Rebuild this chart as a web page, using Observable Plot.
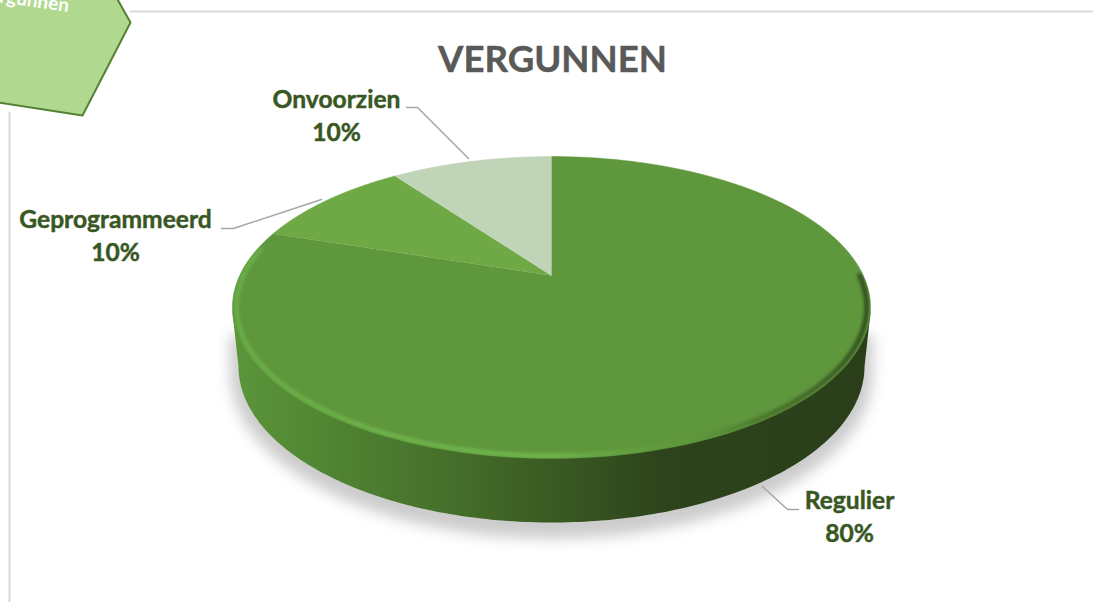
<!DOCTYPE html>
<html><head><meta charset="utf-8">
<style>html,body{margin:0;padding:0;background:#fff;overflow:hidden}</style>
<script src="https://cdn.jsdelivr.net/npm/d3@7"></script>
<script src="https://cdn.jsdelivr.net/npm/@observablehq/plot@0.6"></script>
</head><body>
<script>
const categories = ["Regulier", "Geprogrammeerd", "Onvoorzien"];
const shares = [80, 10, 10];
const sliceColors = ["#5f973c", "#6ea945", "#c0d4b8"];
const titleText = "VERGUNNEN";
const badgeText = "Vergunnen";
const labelX = [849, 115, 336];
const labelY = [501, 220, 100];
const leaders = [
  [[762, 486], [787, 509], [798, 509]],
  [[221, 228], [233, 228], [321, 199]],
  [[406, 107], [417, 107], [468, 158]]
];
const badgeShape = [[-40, -40], [112, -10], [130, 22], [82, 115], [-40, 96]];
const frameTop = [[130, 11], [1093, 11]];
const frameLeft = [[9, 112], [9, 602]];

// perspective disc: top face
const cx = 551, tipY = 275, a = 311.8, b = 144.2, k = 0.212;
const project = (t, r = 1) => {
  const u = r * Math.sin(t), v = -r * Math.cos(t), w = 1 - k * v;
  return [cx + a * u / w, tipY + b * v / w];
};
const TAU = Math.PI * 2;
const arcPts = (t0, t1, r = 1, n = 160) => d3.range(n + 1).map(i => project(t0 + (t1 - t0) * i / n, r));

const pie = d3.pie().sort(null)(shares);
const sliceRows = pie.flatMap((s, i) =>
  [[cx, tipY], ...arcPts(s.startAngle, s.endAngle)].map(([x, y]) => ({name: categories[i], x, y})));

// side wall: lower rim
const lowCy = 366, lowRx = 313, lowRy = 156;
const lowPts = d3.range(0, 181).map(i => {
  const t = Math.PI * i / 180;
  return [cx + lowRx * Math.cos(t), lowCy + lowRy * Math.sin(t)];
});
const wall = [[870, 312], ...lowPts, [232, 312]];
const shadowPts = d3.range(0, 181).map(i => {
  const t = Math.PI * i / 180;
  return [cx + (lowRx + 8) * Math.cos(t), lowCy + 8 + (lowRy + 8) * Math.sin(t)];
});
const shadow = [[cx + 322, 335], ...shadowPts, [cx - 322, 335]];
const rimNear = arcPts(Math.PI * 0.5, Math.PI * 1.56, 0.988, 240);
const facePath = "M" + arcPts(0, TAU, 1, 240).map(p => p.join(",")).join("L") + "Z";

const defs = () => {
  const d = d3.create("svg:defs");
  const grad = (id, x1, x2, stops) => {
    const g = d.append("linearGradient").attr("id", id).attr("gradientUnits", "userSpaceOnUse")
      .attr("x1", x1).attr("x2", x2).attr("y1", 0).attr("y2", 0);
    stops.forEach(([o, c, op]) => g.append("stop").attr("offset", o).attr("stop-color", c).attr("stop-opacity", op ?? 1));
  };
  grad("wallGrad", 232, 870, [[0, "#5b953a"], [0.15, "#508532"], [0.33, "#46702b"], [0.5, "#3a5a22"], [0.68, "#2c431b"], [1, "#2a3f19"]]);
  grad("rimGrad", 232, 870, [[0, "#69ad47"], [0.5, "#70b44d"], [0.62, "#66a543", 0.7], [0.72, "#5f973c", 0.3], [0.82, "#3a5a22", 0.5], [1, "#2a3f19", 0.8]]);
  d.append("clipPath").attr("id", "faceClip").append("path").attr("d", facePath);
  return d.node();
};

const xy = {x: d => d[0], y: d => d[1]};
const bold = {fontFamily: "Lato, Carlito, sans-serif", fontWeight: 700};
const heavy = c => ({fill: c, stroke: c, strokeWidth: 0.45, ...bold});

const plot = Plot.plot({
  width: 1093, height: 602, margin: 0,
  x: {domain: [0, 1093], axis: null},
  y: {domain: [602, 0], axis: null},
  color: {domain: categories, range: sliceColors},
  marks: [
    defs,
    Plot.line(frameTop, {...xy, stroke: "#d9d9d9", strokeWidth: 2}),
    Plot.line(frameLeft, {...xy, stroke: "#d9d9d9", strokeWidth: 2}),
    Plot.line([...badgeShape, badgeShape[0]], {...xy, fill: "#b0d98f", stroke: "#548235", strokeWidth: 2, curve: "linear"}),
    Plot.text([badgeText], {x: () => 23, y: () => -1, text: d => d, rotate: 8, fill: "#fff", fontSize: 19, ...bold}),
    Plot.line(shadow, {...xy, fill: "#9a9a9a", stroke: "none", fillOpacity: 0.5, imageFilter: "blur(7px)"}),
    Plot.line(wall, {...xy, fill: "url(#wallGrad)", stroke: "none"}),
    Plot.line(sliceRows, {x: "x", y: "y", z: "name", fill: "name", stroke: "name", strokeWidth: 0.5}),
    Plot.line(rimNear, {...xy, stroke: "url(#rimGrad)", strokeWidth: 5, imageFilter: "blur(1.6px)",
      render(i, s, v, dim, ctx, next) {
        const g = next(i, s, v, dim, ctx);
        g.setAttribute("clip-path", "url(#faceClip)");
        return g;
      }}),
    ...leaders.map(l => Plot.line(l, {...xy, stroke: "#a6a6a6", strokeWidth: 1.5})),
    Plot.text(categories, {x: (d, i) => labelX[i], y: (d, i) => labelY[i], text: d => d, fontSize: 24.6, ...heavy("#385723")}),
    Plot.text(shares, {x: (d, i) => labelX[i], y: (d, i) => labelY[i] + 33, text: d => d + "%", fontSize: 24.6, ...heavy("#385723")}),
    Plot.text([titleText], {x: () => 552, y: () => 60, text: d => d, fontSize: 36.6, ...heavy("#595959")})
  ]
});
document.body.appendChild(plot);
</script>
</body></html>
